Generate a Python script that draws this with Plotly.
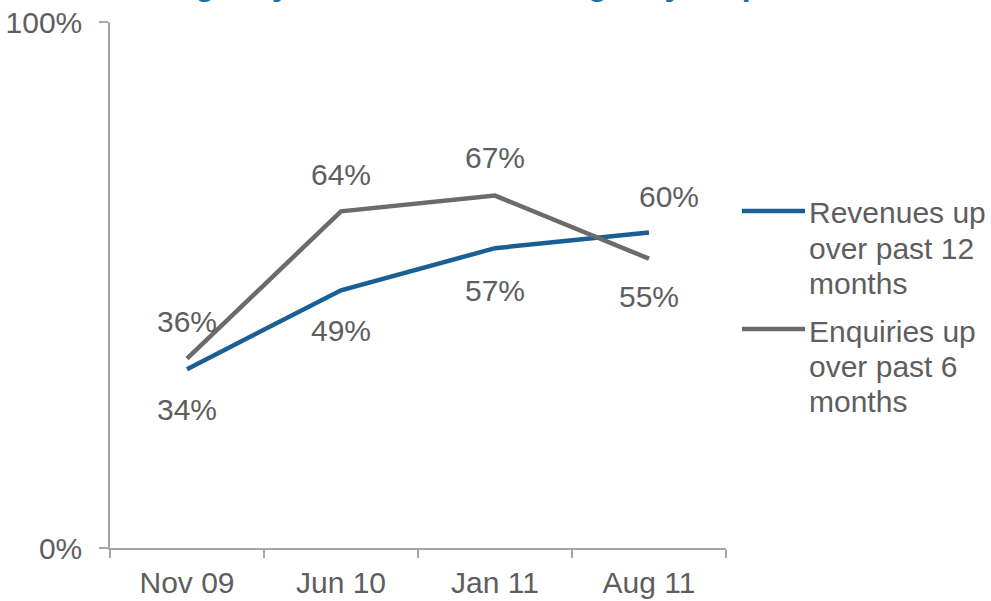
import plotly.graph_objects as go

# Survey periods and shares of agencies reporting growth (%)
periods = ["Nov 09", "Jun 10", "Jan 11", "Aug 11"]
revenues_up = [34, 49, 57, 60]
enquiries_up = [36, 64, 67, 55]
y_tick_vals = [0, 100]
y_tick_text = ["0%", "100%"]

series_names = [
    ["Revenues up", "over past 12", "months"],
    ["Enquiries up", "over past 6", "months"],
]

BLUE = "#195f94"
GREY = "#6b6b6b"
TEXT = "#5e5e5e"
AXIS = "#a6a6a6"
FONT = "Liberation Sans, Arial, sans-serif"

W, H = 991, 601
L, R, T, B = 110, 265, 22, 53
PW, PH = W - L - R, H - T - B

fig = go.Figure()
fig.add_trace(go.Scatter(x=periods, y=revenues_up, mode="lines",
                         line=dict(color=BLUE, width=4.5), showlegend=False,
                         hoverinfo="skip"))
fig.add_trace(go.Scatter(x=periods, y=enquiries_up, mode="lines",
                         line=dict(color=GREY, width=4.5), showlegend=False,
                         hoverinfo="skip"))

annotations = []
# value labels: revenues below except the last, enquiries above except the last
rev_shift = [-40, -40, -42, 36]
rev_xshift = [0, 0, 0, 20]
for p, v, ys, xs in zip(periods, revenues_up, rev_shift, rev_xshift):
    annotations.append(dict(x=p, y=v, xref="x", yref="y", text=f"{v}%",
                            showarrow=False, yshift=ys, xshift=xs,
                            font=dict(size=30, color=TEXT, family=FONT)))
enq_shift = [37, 37, 38, -38]
for p, v, ys in zip(periods, enquiries_up, enq_shift):
    annotations.append(dict(x=p, y=v, xref="x", yref="y", text=f"{v}%",
                            showarrow=False, yshift=ys,
                            font=dict(size=30, color=TEXT, family=FONT)))

# hand-built legend with wrapped labels
def px_x(px):
    return (px - L) / PW


def px_y(py):
    return 1 - (py - T) / PH


shapes = []
legend_rows = [(211, BLUE), (329, GREY)]
for (row_y, color), lines in zip(legend_rows, series_names):
    shapes.append(dict(type="line", xref="paper", yref="paper",
                       x0=px_x(742), x1=px_x(805), y0=px_y(row_y), y1=px_y(row_y),
                       line=dict(color=color, width=4.5)))
    for i, txt in enumerate(lines):
        annotations.append(dict(x=px_x(807), y=px_y(row_y + 2 + i * 35),
                                xref="paper", yref="paper", text=txt,
                                showarrow=False, xanchor="left", yanchor="middle",
                                font=dict(size=30, color=TEXT, family=FONT)))

# title, partly above the top edge of the page
annotations.append(dict(x=px_x(505), y=px_y(-17), xref="paper", yref="paper",
                        text="<b>Agency revenues versus agency enquiries</b>",
                        showarrow=False, xanchor="center", yanchor="middle",
                        font=dict(size=33, color="#1f6ea6", family=FONT)))

fig.update_layout(
    width=W, height=H,
    margin=dict(l=L, r=R, t=T, b=B, pad=0),
    paper_bgcolor="white", plot_bgcolor="white",
    font=dict(family=FONT, size=30, color=TEXT),
    annotations=annotations, shapes=shapes,
    xaxis=dict(type="category", range=[-0.5, 3.5], showgrid=False,
               showline=True, linecolor=AXIS, linewidth=1.5,
               ticks="outside", tickson="boundaries", ticklen=8,
               tickcolor=AXIS, tickwidth=1.5, ticklabelstandoff=7,
               tickfont=dict(size=30, color=TEXT), zeroline=False,
               automargin=False),
    yaxis=dict(range=[0, 100], tickvals=y_tick_vals, ticktext=y_tick_text,
               showgrid=False, showline=True, linecolor=AXIS, linewidth=1.5,
               ticks="outside", ticklen=9, tickcolor=AXIS, tickwidth=1.5,
               ticklabelstandoff=11,
               tickfont=dict(size=30, color=TEXT), zeroline=False,
               automargin=False),
)

fig.write_html("out.html")
